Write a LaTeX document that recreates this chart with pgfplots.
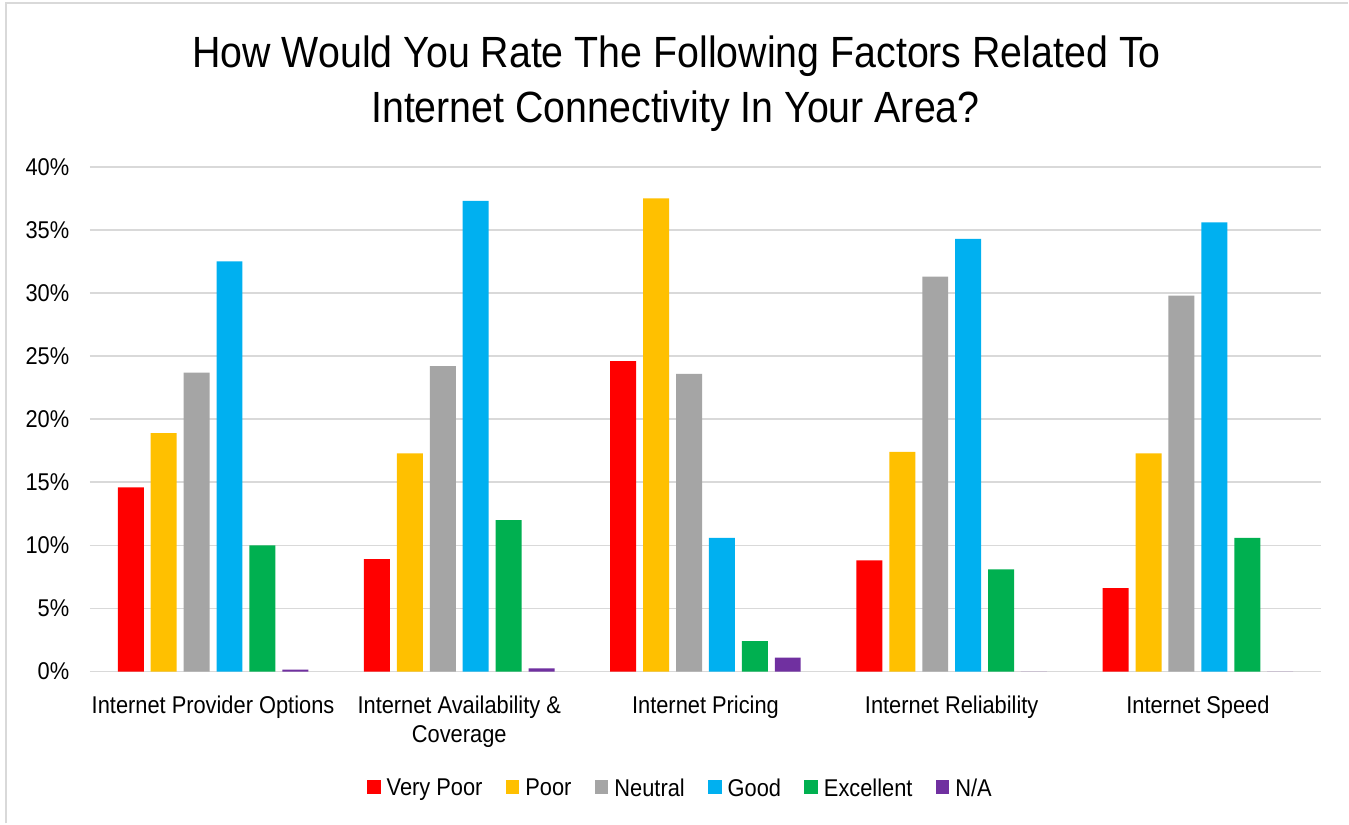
\documentclass[border=0pt]{standalone}
\usepackage{pgfplots}
\pgfplotsset{compat=1.18}
\usepackage{pgfplotstable}
\usepackage{fontspec}
\setmainfont{Liberation Sans}[FakeStretch=0.9]

\definecolor{cVeryPoor}{HTML}{FF0000}
\definecolor{cPoor}{HTML}{FFC000}
\definecolor{cNeutral}{HTML}{A5A5A5}
\definecolor{cGood}{HTML}{00B0F0}
\definecolor{cExcellent}{HTML}{00B050}
\definecolor{cNA}{HTML}{7030A0}
\definecolor{gridgray}{HTML}{D9D9D9}

% Share of responses (%) per factor
\pgfplotstableread{
x  VeryPoor Poor Neutral Good Excellent NA
0  14.6     18.9 23.7    32.5 10.0      0.15
1  8.9      17.3 24.2    37.3 12.0      0.25
2  24.6     37.5 23.6    10.6 2.4       1.1
3  8.8      17.4 31.3    34.3 8.1       0
4  6.6      17.3 29.8    35.6 10.6      0
}\ratings

\newcommand{\labfont}{\fontsize{18.2}{21.5}\selectfont}

\begin{document}
\begin{tikzpicture}[x=0.75pt,y=0.75pt]
  % page frame (origin = lower left corner of the plot area)
  \fill[white] (-90,-152) rectangle (1259,672);
  \draw[gridgray, line width=1.5pt] (-84,-152) -- (-84,669) -- (1259,669);

  % title
  \node[anchor=base, font=\fontsize{32.8}{40}\selectfont] at (587,604) {How Would You Rate The Following Factors Related To};
  \node[anchor=base, font=\fontsize{32.8}{40}\selectfont] at (586,549) {Internet Connectivity In Your Area?};

  \begin{axis}[
    at={(0,0)}, anchor=south west,
    scale only axis,
    width=924pt, height=378.75pt,
    ybar=5.2pt, bar width=19.5pt,
    xmin=-0.5, xmax=4.5,
    ymin=0, ymax=40,
    xtick={0,...,4},
    xticklabels={Internet Provider Options, {Internet Availability \&\\Coverage}, Internet Pricing, Internet Reliability, Internet Speed},
    xticklabel style={align=center, font=\labfont, yshift=-15pt},
    ytick={0,5,...,40},
    yticklabel={\pgfmathprintnumber[assume math mode=true]{\tick}\%},
    yticklabel style={font=\labfont, xshift=-12pt},
    major tick length=0pt,
    axis line style={draw=none},
    ymajorgrids,
    major grid style={draw=gridgray, line width=1.2pt},
    legend columns=6,
    legend style={draw=none, fill=none, at={(rel axis cs:0.4813,-0.2317)}, anchor=center,
      font=\labfont, nodes={inner xsep=4.5pt},
      /tikz/every even column/.append style={column sep=13pt}},
    legend image code/.code={\fill[#1] (0pt,-4pt) rectangle (10.2pt,6.2pt);},
  ]
    \addplot[fill=cVeryPoor, draw=none] table[x=x, y=VeryPoor] {\ratings};
    \addplot[fill=cPoor, draw=none] table[x=x, y=Poor] {\ratings};
    \addplot[fill=cNeutral, draw=none] table[x=x, y=Neutral] {\ratings};
    \addplot[fill=cGood, draw=none] table[x=x, y=Good] {\ratings};
    \addplot[fill=cExcellent, draw=none] table[x=x, y=Excellent] {\ratings};
    \addplot[fill=cNA, draw=none] table[x=x, y=NA] {\ratings};
    \legend{Very Poor, Poor, Neutral, Good, Excellent, N/A}
  \end{axis}
\end{tikzpicture}
\end{document}
